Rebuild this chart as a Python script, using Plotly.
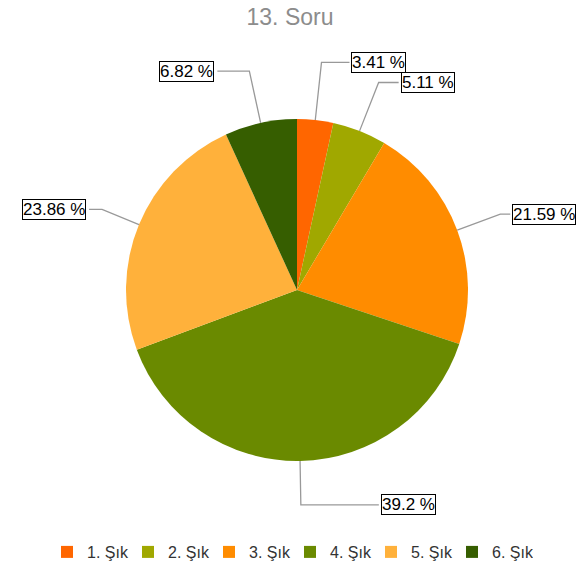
import math
import plotly.graph_objects as go

categories = ["1. Şık", "2. Şık", "3. Şık", "4. Şık", "5. Şık", "6. Şık"]
values = [3.41, 5.11, 21.59, 39.2, 23.86, 6.82]
label_texts = ["3.41 %", "5.11 %", "21.59 %", "39.2 %", "23.86 %", "6.82 %"]
colors = ["#FF6600", "#A0A800", "#FF8C00", "#6A8A00", "#FFB13B", "#365E00"]

W, H = 580, 576
CX, CY, R = 297, 290, 171
# leader-line layout (pixels): radius of the elbow and length of the horizontal run
leader_r = [229, 223, 217, 215, 211, 224]
elbow = [28, 20, 10, 78, 13, 32]

fig = go.Figure(go.Pie(
    labels=categories, values=values, sort=False, direction="clockwise",
    rotation=0, marker=dict(colors=colors, line=dict(width=0)),
    textinfo="none", hoverinfo="label+percent",
    domain=dict(x=[(CX - R) / W, (CX + R) / W], y=[1 - (CY + R) / H, 1 - (CY - R) / H]),
))

total = sum(values)
cum = 0
shapes, annotations = [], []
for v, t, lr, e in zip(values, label_texts, leader_r, elbow):
    mid = (cum + v / 2) / total * 2 * math.pi
    cum += v
    sx, sy = CX + R * math.sin(mid), CY - R * math.cos(mid)
    ex, ey = CX + lr * math.sin(mid), CY - lr * math.cos(mid)
    right = math.sin(mid) >= 0
    hx = ex + (e if right else -e)
    path = f"M {sx/W},{1-sy/H} L {ex/W},{1-ey/H} L {hx/W},{1-ey/H}"
    shapes.append(dict(type="path", xref="paper", yref="paper", path=path,
                       line=dict(color="#999999", width=1.3)))
    annotations.append(dict(
        x=(hx + (2 if right else -3)) / W, y=1 - ey / H, xref="paper", yref="paper",
        text=t, showarrow=False, xanchor="left" if right else "right", yanchor="middle",
        font=dict(family="Liberation Sans, Arial, sans-serif", size=17, color="#000000"),
        bgcolor="#FFFFFF", bordercolor="#000000", borderwidth=1, borderpad=0,
    ))

fig.update_layout(
    width=W, height=H, autosize=False,
    margin=dict(l=0, r=0, t=0, b=0),
    paper_bgcolor="#FFFFFF", plot_bgcolor="#FFFFFF",
    title=dict(text="13. Soru", x=0.5, xanchor="center", y=1 - 17 / H, yanchor="middle",
               font=dict(family="Liberation Sans, Arial, sans-serif", size=23, color="#8C8C8C")),
    legend=dict(orientation="h", x=0.5, xanchor="center", y=1 - 552 / H, yanchor="middle",
                font=dict(family="Liberation Sans, Arial, sans-serif", size=16, color="#333333"),
                traceorder="normal", entrywidth=36, entrywidthmode="pixels"),
    showlegend=True,
    shapes=shapes, annotations=annotations,
)

fig.write_html("out.html", config={"displayModeBar": False},
               post_script="document.body.style.margin='0';")
